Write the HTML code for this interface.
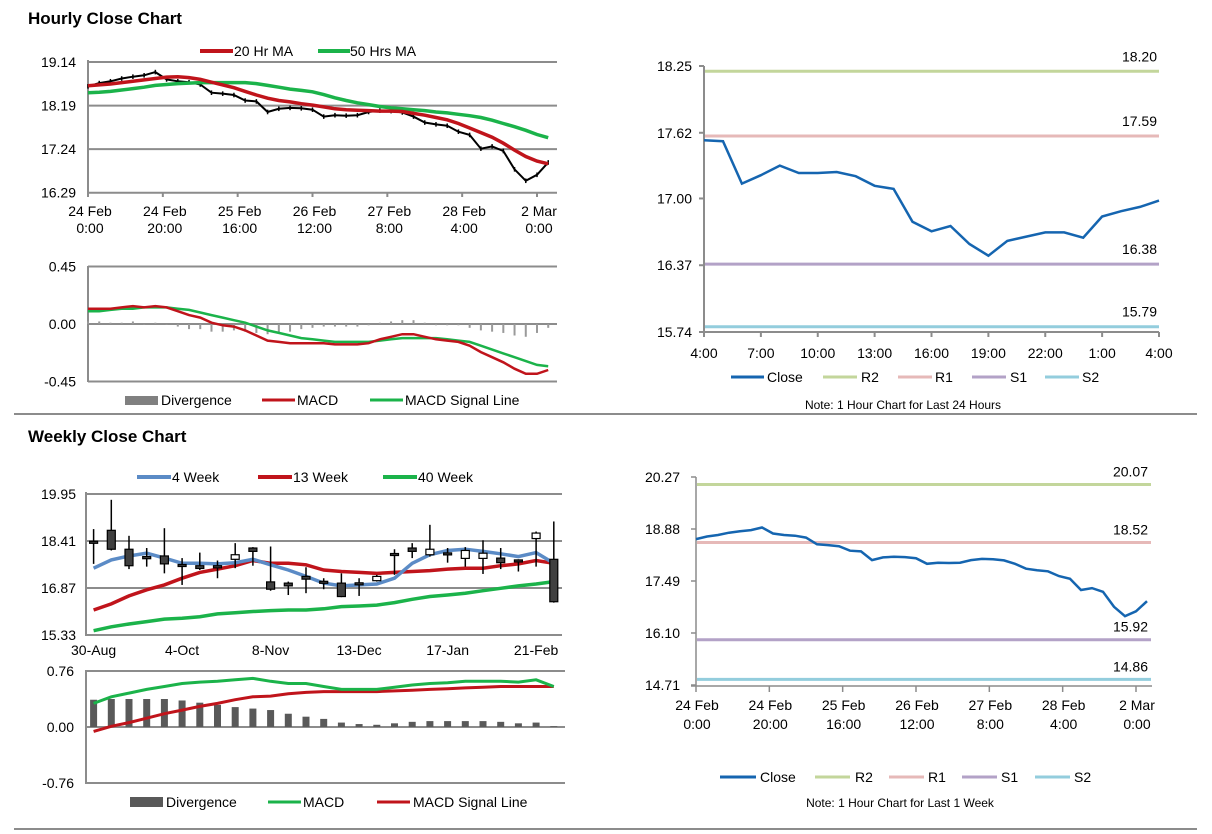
<!DOCTYPE html>
<html><head><meta charset="utf-8"><style>
body{margin:0;background:#fff;}
svg{display:block;font-family:"Liberation Sans",Arial,sans-serif;}
</style></head><body>
<svg id="chart" width="1212" height="834" viewBox="0 0 1212 834" xmlns="http://www.w3.org/2000/svg">
<text x="28" y="24" font-size="17" font-weight="bold">Hourly Close Chart</text>
<text x="28" y="442" font-size="17" font-weight="bold">Weekly Close Chart</text>
<line x1="14" y1="414" x2="1197" y2="414" stroke="#8c8c8c" stroke-width="2"/>
<line x1="14" y1="829" x2="1197" y2="829" stroke="#8c8c8c" stroke-width="2"/>
<g font-size="14" fill="#000">
<g>
<line x1="200" y1="51" x2="233" y2="51" stroke="#c0141b" stroke-width="4"/><text x="234" y="56">20 Hr MA</text>
<line x1="318" y1="51" x2="350" y2="51" stroke="#1bb34a" stroke-width="4"/><text x="350" y="56">50 Hrs MA</text>
</g>
<g>
<rect x="125" y="396" width="33" height="9" fill="#808080"/><text x="161" y="405">Divergence</text>
<line x1="262" y1="400" x2="295" y2="400" stroke="#c0141b" stroke-width="3"/><text x="297" y="405">MACD</text>
<line x1="370" y1="400" x2="403" y2="400" stroke="#1bb34a" stroke-width="3"/><text x="405" y="405">MACD Signal Line</text>
</g>
<g>
<line x1="731" y1="377" x2="764" y2="377" stroke="#1565b0" stroke-width="3"/><text x="767" y="382">Close</text>
<line x1="823" y1="377" x2="857" y2="377" stroke="#c3d69b" stroke-width="3"/><text x="861" y="382">R2</text>
<line x1="898" y1="377" x2="932" y2="377" stroke="#e6b9b8" stroke-width="3"/><text x="935" y="382">R1</text>
<line x1="972" y1="377" x2="1006" y2="377" stroke="#b3a2c7" stroke-width="3"/><text x="1010" y="382">S1</text>
<line x1="1045" y1="377" x2="1079" y2="377" stroke="#93cddd" stroke-width="3"/><text x="1082" y="382">S2</text>
</g>
<text x="903" y="409" font-size="12" text-anchor="middle">Note: 1 Hour Chart for Last 24 Hours</text>
<g>
<line x1="137" y1="477" x2="171" y2="477" stroke="#5b8bc6" stroke-width="4"/><text x="172" y="482">4 Week</text>
<line x1="258" y1="477" x2="292" y2="477" stroke="#c0141b" stroke-width="4"/><text x="293" y="482">13 Week</text>
<line x1="383" y1="477" x2="417" y2="477" stroke="#1bb34a" stroke-width="4"/><text x="418" y="482">40 Week</text>
</g>
<g>
<rect x="130" y="797" width="33" height="10" fill="#595959"/><text x="166" y="807">Divergence</text>
<line x1="268" y1="802" x2="301" y2="802" stroke="#1bb34a" stroke-width="3"/><text x="303" y="807">MACD</text>
<line x1="377" y1="802" x2="410" y2="802" stroke="#c0141b" stroke-width="3"/><text x="413" y="807">MACD Signal Line</text>
</g>
<g>
<line x1="720" y1="777" x2="756" y2="777" stroke="#1565b0" stroke-width="3"/><text x="760" y="782">Close</text>
<line x1="815" y1="777" x2="850" y2="777" stroke="#c3d69b" stroke-width="3"/><text x="855" y="782">R2</text>
<line x1="889" y1="777" x2="924" y2="777" stroke="#e6b9b8" stroke-width="3"/><text x="928" y="782">R1</text>
<line x1="962" y1="777" x2="997" y2="777" stroke="#b3a2c7" stroke-width="3"/><text x="1001" y="782">S1</text>
<line x1="1035" y1="777" x2="1070" y2="777" stroke="#93cddd" stroke-width="3"/><text x="1074" y="782">S2</text>
</g>
<text x="900" y="807" font-size="12" text-anchor="middle">Note: 1 Hour Chart for Last 1 Week</text>
</g>
</svg>
<script>
// ---- data ----
const hourIdx = [0,3,6,9,12,15,18,21,24,27,30,33,36,39,42,45,48,51,54,57,60,63,66,69,72,75,78,81,84,87,90,93,96,99,102,105,108,111,114,117,120,123];
const hourlyClose = [18.61,18.68,18.72,18.78,18.82,18.85,18.92,18.76,18.72,18.70,18.65,18.47,18.45,18.42,18.30,18.28,18.05,18.12,18.14,18.13,18.10,17.95,17.98,17.97,17.98,18.05,18.08,18.07,18.04,17.95,17.82,17.78,17.75,17.62,17.55,17.25,17.30,17.20,16.80,16.55,16.68,16.95];
const ma20 = [18.62,18.64,18.66,18.69,18.72,18.75,18.78,18.81,18.82,18.80,18.76,18.70,18.64,18.58,18.50,18.42,18.35,18.30,18.27,18.23,18.20,18.16,18.12,18.10,18.09,18.08,18.07,18.07,18.06,18.02,17.98,17.93,17.88,17.80,17.70,17.60,17.50,17.37,17.22,17.08,16.98,16.92];
const ma50 = [18.47,18.48,18.50,18.53,18.56,18.59,18.63,18.65,18.67,18.68,18.69,18.69,18.69,18.69,18.69,18.67,18.63,18.59,18.55,18.52,18.49,18.43,18.36,18.30,18.25,18.21,18.17,18.14,18.12,18.10,18.08,18.05,18.03,18.00,17.97,17.93,17.87,17.80,17.73,17.65,17.56,17.49];
const hMacd = [0.12,0.12,0.12,0.13,0.14,0.13,0.14,0.13,0.10,0.07,0.05,0.01,-0.01,-0.02,-0.05,-0.09,-0.13,-0.14,-0.15,-0.15,-0.15,-0.15,-0.16,-0.16,-0.16,-0.15,-0.12,-0.10,-0.08,-0.08,-0.10,-0.12,-0.13,-0.14,-0.17,-0.22,-0.26,-0.30,-0.35,-0.39,-0.39,-0.36];
const hSignal = [0.10,0.10,0.11,0.12,0.12,0.13,0.13,0.13,0.12,0.11,0.09,0.07,0.05,0.03,0.01,-0.02,-0.05,-0.07,-0.09,-0.11,-0.12,-0.13,-0.14,-0.14,-0.14,-0.14,-0.13,-0.12,-0.11,-0.11,-0.11,-0.11,-0.12,-0.13,-0.14,-0.17,-0.20,-0.23,-0.26,-0.29,-0.32,-0.33];
const hPriceTicks = [19.14,18.19,17.24,16.29];
const hMacdTicks = [0.45,0.00,-0.45];
const hDateLabels = [["24 Feb","0:00"],["24 Feb","20:00"],["25 Feb","16:00"],["26 Feb","12:00"],["27 Feb","8:00"],["28 Feb","4:00"],["2 Mar","0:00"]];
const hDateIdx = [0,20,40,60,80,100,120];

const dayHours = [0,1,2,3,4,5,6,7,8,9,10,11,12,13,14,15,16,17,18,19,20,21,22,23,24];
const dayClose = [17.55,17.54,17.14,17.22,17.31,17.24,17.24,17.25,17.21,17.12,17.09,16.78,16.69,16.74,16.57,16.46,16.60,16.64,16.68,16.68,16.63,16.83,16.88,16.92,16.98];
const dayLabels = ["4:00","7:00","10:00","13:00","16:00","19:00","22:00","1:00","4:00"];
const dayTicks = [18.25,17.62,17.00,16.37,15.74];
const dayLevels = [18.20,17.59,16.38,15.79];
const weekLevels = [20.07,18.52,15.92,14.86];
const weekHourTicks = [20.27,18.88,17.49,16.10,14.71];

const wOpen  = [18.40,18.76,18.14,17.90,17.92,17.64,17.60,17.60,17.81,18.18,17.07,17.03,17.25,17.09,17.03,17.04,17.11,18.00,18.18,17.96,18.02,17.84,17.84,17.85,17.79,18.49,17.81];
const wHigh  = [18.80,19.76,18.58,18.18,18.83,17.85,18.03,17.77,18.34,18.21,18.23,17.08,17.55,17.19,17.35,17.19,17.30,18.14,18.34,18.94,18.18,18.21,18.43,18.18,17.81,18.72,19.05];
const wLow   = [17.66,18.10,17.49,17.57,17.35,16.97,17.46,17.19,17.52,17.60,16.78,16.64,16.70,16.83,16.57,16.61,17.08,17.30,17.85,17.90,17.70,17.57,17.33,17.49,17.41,17.57,16.39];
const wClose = [18.38,18.14,17.60,17.83,17.66,17.62,17.51,17.53,17.96,18.07,16.83,16.94,17.16,17.07,16.59,17.02,17.25,17.98,18.07,18.14,18.00,18.10,18.01,17.70,17.74,18.67,16.42];
const w4 = [17.52,17.79,17.92,18.01,17.85,17.68,17.68,17.66,17.70,17.81,17.63,17.46,17.25,17.03,16.94,16.97,17.00,17.19,17.68,17.96,18.10,18.14,18.07,17.99,17.90,18.03,17.68];
const w13 = [16.15,16.35,16.61,16.81,16.97,17.19,17.38,17.49,17.60,17.77,17.68,17.68,17.63,17.46,17.41,17.38,17.35,17.38,17.41,17.44,17.49,17.52,17.52,17.60,17.66,17.77,17.68];
const w40 = [15.47,15.60,15.69,15.77,15.85,15.88,15.93,16.02,16.06,16.10,16.13,16.15,16.15,16.19,16.26,16.28,16.31,16.39,16.50,16.59,16.64,16.70,16.78,16.86,16.94,17.00,17.08];
const wMacd = [0.32,0.41,0.46,0.51,0.55,0.59,0.61,0.62,0.64,0.66,0.62,0.59,0.59,0.55,0.51,0.51,0.51,0.54,0.57,0.59,0.60,0.62,0.62,0.62,0.61,0.64,0.55];
const wSignal = [-0.06,0.01,0.06,0.12,0.18,0.23,0.28,0.32,0.37,0.41,0.42,0.45,0.47,0.48,0.48,0.48,0.48,0.49,0.50,0.51,0.52,0.53,0.54,0.55,0.55,0.55,0.55];
const wDiv = [0.37,0.38,0.38,0.38,0.38,0.36,0.33,0.30,0.27,0.25,0.23,0.18,0.14,0.11,0.06,0.04,0.03,0.05,0.07,0.08,0.08,0.08,0.08,0.07,0.05,0.06,0.01];
const wPriceTicks = [19.95,18.41,16.87,15.33];
const wMacdTicks = [0.76,0.00,-0.76];
const wDateLabels = ["30-Aug","4-Oct","8-Nov","13-Dec","17-Jan","21-Feb"];
const wDateIdx = [0,5,10,15,20,25];

// ---- scales ----
const NS = "http://www.w3.org/2000/svg";
const svg = document.getElementById('chart');
const hx = i => 88 + i*(537-88)/120;
const hy = v => 62 + (19.14-v)/(19.14-16.29)*(192.7-62);
const my = v => 324 - v/0.45*57.5;
const dx = h => 704 + h*(1159-704)/24;
const dy = v => 66 + (18.25-v)/(18.25-15.74)*266;
const bx = i => 696 + i*(1136-696)/120;
const by = v => 477 + (20.27-v)/(20.27-14.71)*208;
const wx = k => 93.6 + k*17.7;
const wy = v => 494 + (19.95-v)/(19.95-15.33)*141;
const wmy = v => 727 - v/0.76*56;

function mk(tag, attrs){ const e=document.createElementNS(NS,tag); for(const k in attrs) e.setAttribute(k, attrs[k]); svg.appendChild(e); return e; }
function txt(x,y,s,anchor,size){ const t=mk('text',{x:x,y:y,'font-size':size||14,'text-anchor':anchor||'start'}); t.textContent=s; return t; }
function pts(xs, ys, fx, fy){ return xs.map((x,i)=>fx(x).toFixed(1)+','+fy(ys[i]).toFixed(1)).join(' '); }
const GRID = '#8c8c8c';

// ===== Hourly price panel =====
hPriceTicks.forEach(v=>{
  const g=mk('line',{x1:88,x2:557,y1:hy(v),y2:hy(v),stroke:GRID,'stroke-width':2});
  
  
  const t=txt(76,hy(v)+5,v.toFixed(2),'end');
  
  
});
{const a=mk('line',{x1:88,x2:88,y1:60,y2:197,stroke:GRID,'stroke-width':2});

}
hDateIdx.forEach((idx,i)=>{
  const tk=mk('line',{x1:hx(idx),x2:hx(idx),y1:192,y2:197,stroke:GRID,'stroke-width':2});
  
  
  const t1=txt(hx(idx)+2,216,hDateLabels[i][0],'middle');
  
  
  const t2=txt(hx(idx)+2,233,hDateLabels[i][1],'middle');
  
  
});
hourIdx.forEach((idx,i)=>{
  const c=mk('line',{x1:hx(idx),x2:hx(idx),y1:hy(hourlyClose[i]+0.05),y2:hy(hourlyClose[i]-0.05),stroke:'#000','stroke-width':1.5});
  
  
});
{const p=mk('polyline',{points:pts(hourIdx,hourlyClose,hx,hy),fill:'none',stroke:'#000','stroke-width':2});

}
{const p=mk('polyline',{points:pts(hourIdx,ma50,hx,hy),fill:'none',stroke:'#1bb34a','stroke-width':3.5});

}
{const p=mk('polyline',{points:pts(hourIdx,ma20,hx,hy),fill:'none',stroke:'#c0141b','stroke-width':3.5});

}

// ===== Hourly MACD panel =====
hMacdTicks.forEach(v=>{
  const g=mk('line',{x1:88,x2:557,y1:my(v),y2:my(v),stroke:GRID,'stroke-width':2});
  
  
  const t=txt(76,my(v)+5,v.toFixed(2),'end');
  
  
});
{const a=mk('line',{x1:88,x2:88,y1:266,y2:382,stroke:GRID,'stroke-width':2});

}
hourIdx.forEach((idx,i)=>{
  const d=hMacd[i]-hSignal[i];
  const b=mk('rect',{x:hx(idx)-1,y:Math.min(my(0),my(d)),width:2,height:Math.max(0.5,Math.abs(my(d)-my(0))),fill:'#9a9a9a'});
  
  
});
{const p=mk('polyline',{points:pts(hourIdx,hSignal,hx,my),fill:'none',stroke:'#1bb34a','stroke-width':2.5});

}
{const p=mk('polyline',{points:pts(hourIdx,hMacd,hx,my),fill:'none',stroke:'#c0141b','stroke-width':2.5});

}

// ===== 24h chart =====
const levelColors=['#c3d69b','#e6b9b8','#b3a2c7','#93cddd'];
{const a=mk('line',{x1:704,x2:704,y1:66,y2:332,stroke:GRID,'stroke-width':2});

}
{const a=mk('line',{x1:700,x2:1159,y1:332,y2:332,stroke:GRID,'stroke-width':2});

}
dayTicks.forEach(v=>{
  const tk=mk('line',{x1:699,x2:704,y1:dy(v),y2:dy(v),stroke:GRID,'stroke-width':2});
  
  
  const t=txt(692,dy(v)+5,v.toFixed(2),'end');
  
  
});
dayLabels.forEach((s,i)=>{
  const h=i*3;
  const tk=mk('line',{x1:dx(h),x2:dx(h),y1:332,y2:337,stroke:GRID,'stroke-width':2});
  
  
  const t=txt(dx(h),358,s,'middle');
  
  
});
dayLevels.forEach((v,i)=>{
  const l=mk('line',{x1:705,x2:1159,y1:dy(v),y2:dy(v),stroke:levelColors[i],'stroke-width':3});
  
  
  const t=txt(1157,dy(v)-10,v.toFixed(2),'end');
  
  
});
{const p=mk('polyline',{points:pts(dayHours,dayClose,dx,dy),fill:'none',stroke:'#1565b0','stroke-width':2.5});

}

// ===== 1 week hourly chart =====
{const a=mk('line',{x1:696,x2:696,y1:477,y2:686,stroke:GRID,'stroke-width':1.5});

}
{const a=mk('line',{x1:691,x2:1152,y1:686,y2:686,stroke:GRID,'stroke-width':1.5});

}
weekHourTicks.forEach(v=>{
  const tk=mk('line',{x1:691,x2:696,y1:by(v),y2:by(v),stroke:GRID,'stroke-width':1.5});
  
  
  const t=txt(680,by(v)+5,v.toFixed(2),'end');
  
  
});
hDateIdx.forEach((idx,i)=>{
  const tk=mk('line',{x1:bx(idx),x2:bx(idx),y1:686,y2:692,stroke:GRID,'stroke-width':1.5});
  
  
  const t1=txt(bx(idx)+1,710,hDateLabels[i][0],'middle');
  
  
  const t2=txt(bx(idx)+1,729,hDateLabels[i][1],'middle');
  
  
});
weekLevels.forEach((v,i)=>{
  const l=mk('line',{x1:697,x2:1151,y1:by(v),y2:by(v),stroke:levelColors[i],'stroke-width':3});
  
  
  const t=txt(1148,by(v)-8,v.toFixed(2),'end');
  
  
});
{const p=mk('polyline',{points:pts(hourIdx,hourlyClose,bx,by),fill:'none',stroke:'#1565b0','stroke-width':2.5});

}

// ===== Weekly price panel =====
wPriceTicks.forEach(v=>{
  const g=mk('line',{x1:86,x2:562,y1:wy(v),y2:wy(v),stroke:GRID,'stroke-width':2});
  
  
  const t=txt(76,wy(v)+5,v.toFixed(2),'end');
  
  
});
{const a=mk('line',{x1:86,x2:86,y1:492,y2:636,stroke:GRID,'stroke-width':2});

}
wDateLabels.forEach((s,i)=>{
  const t=txt(wx(wDateIdx[i]),655,s,'middle');
  
  
});
{const p=mk('polyline',{points:pts(wOpen.map((_,k)=>k),w40,wx,wy),fill:'none',stroke:'#1bb34a','stroke-width':3.5});

}
{const p=mk('polyline',{points:pts(wOpen.map((_,k)=>k),w13,wx,wy),fill:'none',stroke:'#c0141b','stroke-width':3.5});

}
{const p=mk('polyline',{points:pts(wOpen.map((_,k)=>k),w4,wx,wy),fill:'none',stroke:'#5b8bc6','stroke-width':3.5});

}
wOpen.forEach((o,k)=>{
  const wk=mk('line',{x1:wx(k),x2:wx(k),y1:wy(wHigh[k]),y2:wy(wLow[k]),stroke:'#000','stroke-width':1.5});
  
  
  const top=Math.max(o,wClose[k]), bot=Math.min(o,wClose[k]);
  const h=Math.max(2,wy(bot)-wy(top));
  const down=wClose[k]<o;
  const b=mk('rect',{x:wx(k)-4,y:wy(top),width:8,height:h,fill:down?'#404040':'#fff',stroke:'#000','stroke-width':1.2});
  
  
});

// ===== Weekly MACD panel =====
wMacdTicks.forEach(v=>{
  const g=mk('line',{x1:86,x2:565,y1:wmy(v),y2:wmy(v),stroke:GRID,'stroke-width':2});
  
  
  const t=txt(74,wmy(v)+5,v.toFixed(2),'end');
  
  
});
{const a=mk('line',{x1:86,x2:86,y1:670,y2:784,stroke:GRID,'stroke-width':2});

}
wDiv.forEach((d,k)=>{
  const b=mk('rect',{x:wx(k)-3.5,y:Math.min(wmy(0),wmy(d)),width:7,height:Math.max(0.5,Math.abs(wmy(d)-wmy(0))),fill:'#595959'});
  
  
});
{const p=mk('polyline',{points:pts(wOpen.map((_,k)=>k),wSignal,wx,wmy),fill:'none',stroke:'#c0141b','stroke-width':3});

}
{const p=mk('polyline',{points:pts(wOpen.map((_,k)=>k),wMacd,wx,wmy),fill:'none',stroke:'#1bb34a','stroke-width':3});

}
</script>
</body></html>
